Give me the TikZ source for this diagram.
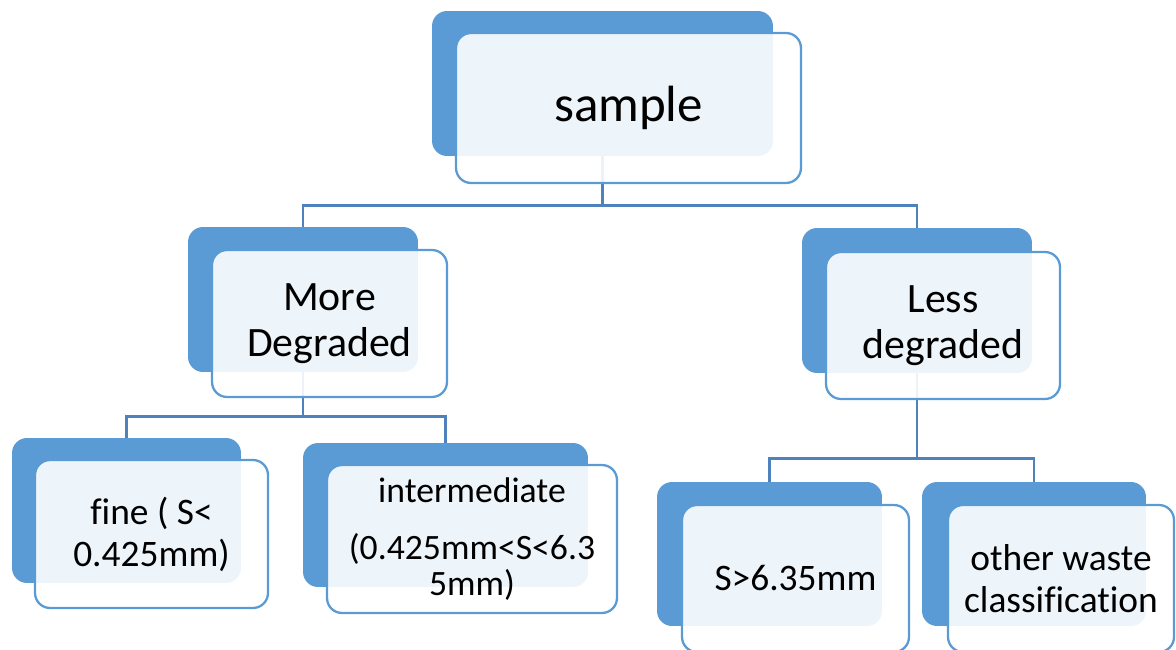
\documentclass[tikz,border=0pt]{standalone}
\usepackage{fontspec}
\setmainfont{Carlito}[Ligatures=CommonOff]
\usetikzlibrary{positioning}
\definecolor{accent}{HTML}{5B9BD5}
\definecolor{linkblue}{HTML}{4F81BD}
\tikzset{
  back/.style={rectangle, rounded corners=3mm, fill=accent, inner sep=0pt},
  front/.style={rectangle, rounded corners=3mm, draw=accent, line width=1.3pt,
                fill=white, fill opacity=0.9, text opacity=1, align=center, inner sep=0pt},
  big/.style={font=\fontsize{29}{32}\selectfont},
  mid/.style={font=\fontsize{23.8}{26}\selectfont},
  small/.style={font=\fontsize{21.3}{24}\selectfont},
  link/.style={draw=linkblue, line width=1.4pt}
}

\begin{document}
\begin{tikzpicture}[x=0.02cm, y=-0.02cm]
\useasboundingbox (0,0) rectangle (1176,649);
\clip (0,0) rectangle (1176,649);
% back boxes
\node[back, minimum width=6.82cm, minimum height=2.9cm] (sample) at (602.5,83.5) {};
\node[back, minimum width=4.6cm, minimum height=2.9cm] (more) at (303,299.5) {};
\node[back, minimum width=4.6cm, minimum height=2.9cm] (less) at (917,300.5) {};
\node[back, minimum width=4.58cm, minimum height=2.9cm] (fine) at (126.5,510.5) {};
\node[back, minimum width=5.7cm, minimum height=2.88cm] (inter) at (445.5,515) {};
\node[back, minimum width=4.5cm, minimum height=2.88cm] (coarse) at (769.5,554) {};
\node[back, minimum width=4.48cm, minimum height=2.88cm] (other) at (1034,554) {};
% connectors
\draw[link] (sample.south) -- ++(0,49) -| (more.north);
\draw[link] (sample.south) -- ++(0,49) -| (less.north);
\draw[link] (more.south) -- ++(0,44) -| (fine.north);
\draw[link] (more.south) -- ++(0,44) -| (inter.north);
\draw[link] (less.south) -- ++(0,85) -| (coarse.north);
\draw[link] (less.south) -- ++(0,85) -| (other.north);
% front boxes
\node[front, big, minimum width=6.9cm, minimum height=3cm] (sampleT) at (628.5,108) {sample};
\node[front, mid, minimum width=4.7cm, minimum height=2.94cm] (moreT) at (329.5,323.5) {More\\Degraded};
\node[front, mid, minimum width=4.68cm, minimum height=2.94cm] (lessT) at (943,325.5) {Less\\degraded};
\node[front, small, minimum width=4.66cm, minimum height=2.96cm] (fineT) at (151.5,534) {fine ( S<\\0.425mm)};
\node[front, font=\fontsize{20.3}{20.6}\selectfont, minimum width=5.8cm, minimum height=2.96cm] (interT) at (472,539) {intermediate\\[12pt](0.425mm<S<6.3\\5mm)};
\node[front, small, minimum width=4.54cm, minimum height=2.94cm] (coarseT) at (795.5,578.5) {S>6.35mm};
\node[front, small, minimum width=4.52cm, minimum height=2.94cm] (otherT) at (1061,578.5) {other waste\\classification};
\end{tikzpicture}
\end{document}
